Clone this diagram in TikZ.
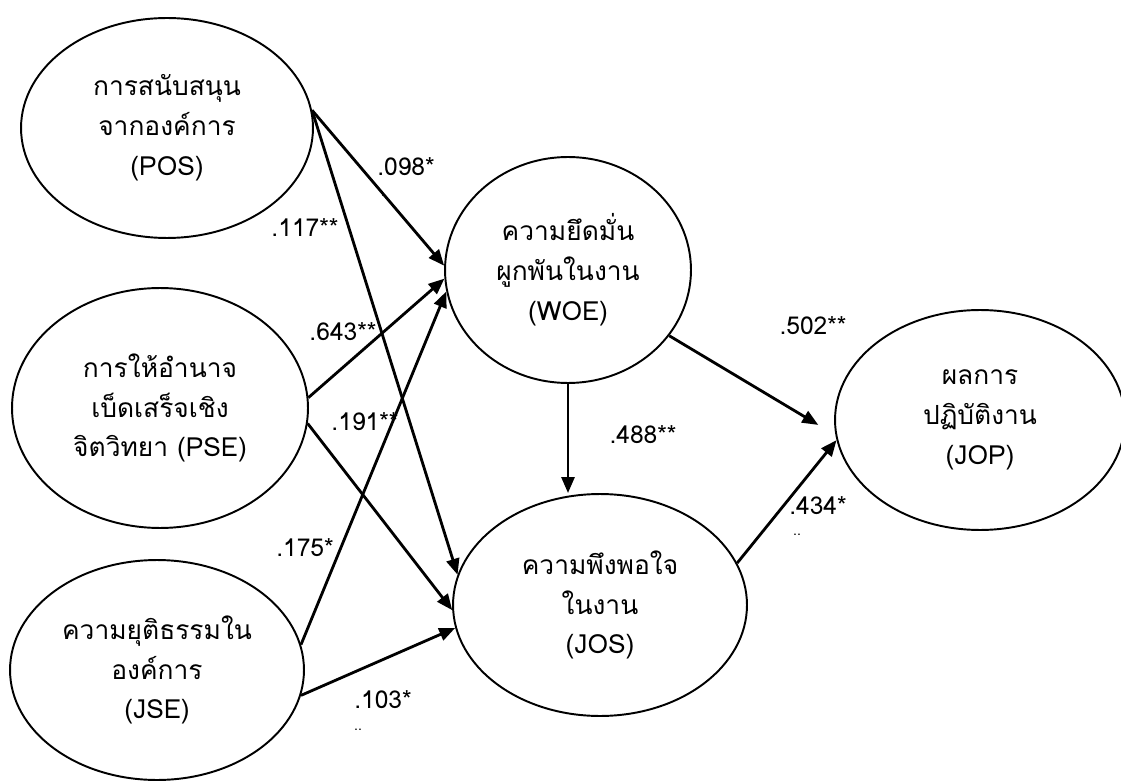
\documentclass[tikz,border=0pt]{standalone}
\usepackage{fontspec}
\setmainfont[Script=Thai]{Loma}
\usetikzlibrary{shapes.geometric,arrows.meta}
\begin{document}
\begin{tikzpicture}[x=0.02cm,y=-0.02cm,
  latent/.style={ellipse,draw,line width=1.1pt,inner sep=0pt,align=center,
    font=\fontsize{15}{22.7}\selectfont},
  pathline/.style={line width=1.6pt,-{Triangle[length=0.32cm,width=0.26cm]}},
  coef/.style={font=\fontsize{14}{16}\selectfont,inner sep=0pt},
  tinymark/.style={font=\fontsize{8}{9}\selectfont,inner sep=0pt}]
\useasboundingbox (0,0) rectangle (1121,783);

\node[latent,minimum width=5.84cm,minimum height=4.4cm] (POS) at (167,128)
  {การสนับสนุน\\จากองค์การ\\(POS)};
\node[latent,minimum width=5.92cm,minimum height=4.8cm] (PSE) at (160,408)
  {การให้อำนาจ\\เบ็ดเสร็จเชิง\\จิตวิทยา (PSE)};
\node[latent,minimum width=5.88cm,minimum height=4.4cm] (JSE) at (157,670)
  {ความยุติธรรมใน\\องค์การ\\(JSE)};
\node[latent,minimum width=4.92cm,minimum height=4.52cm] (WOE) at (568,270)
  {ความยึดมั่น\\ผูกพันในงาน\\(WOE)};
\node[latent,minimum width=5.88cm,minimum height=4.44cm] (JOS) at (600,605)
  {ความพึงพอใจ\\ในงาน\\(JOS)};
\node[latent,minimum width=5.8cm,minimum height=4.4cm] (JOP) at (980,420)
  {ผลการ\\ปฏิบัติงาน\\(JOP)};

\draw[pathline] (POS.7) -- (WOE.178);
\draw[pathline] (POS.7) -- (JOS.168);
\draw[pathline] (PSE.4) -- (WOE.184);
\draw[pathline] (PSE.-6) -- (JOS.182);
\draw[pathline] (JSE.10.5) -- (WOE.190);
\draw[pathline] (JSE.-10.5) -- (JOS.189);
\draw[pathline] (WOE.south) -- (WOE.south |- JOS.north);
\draw[pathline,shorten >=0.4cm] (WOE.-33) -- (JOP.186);
\draw[pathline] (JOS.17.4) -- (JOP.188);

\node[coef] (c1) at (406,167) {.098*};
\node[tinymark] (m1) at (383,196) {.};
\node[coef] (c2) at (305,228) {.117**};
\node[coef] (c3) at (343,332) {.643**};
\node[coef] (c4) at (365,422) {.191**};
\node[coef] (c5) at (305,548) {.175*};
\node[coef] (c6) at (383,700) {.103*};
\node[tinymark] (m6) at (358,730) {..};
\node[coef] (c7) at (643,435) {.488**};
\node[coef] (c8) at (813,326) {.502**};
\node[coef] (c9) at (818,506) {.434*};
\node[tinymark] (m9) at (797,535) {..};
\end{tikzpicture}
\end{document}
